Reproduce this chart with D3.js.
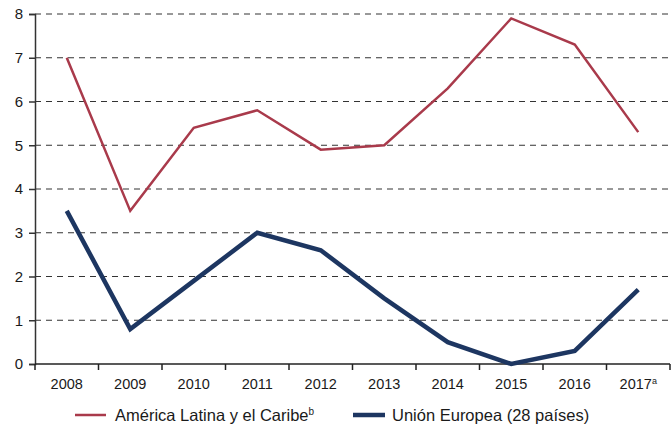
<!DOCTYPE html>
<html>
<head>
<meta charset="utf-8">
<script src="https://cdn.jsdelivr.net/npm/d3@7"></script>
<style>
  body { margin: 0; background: #fff; }
  text { font-family: "Liberation Sans", Arial, sans-serif; fill: #1a1a1a; }
</style>
</head>
<body>
<div id="container"></div>
<script>
const years = ["2008", "2009", "2010", "2011", "2012", "2013", "2014", "2015", "2016", "2017"];
const yearSup = ["", "", "", "", "", "", "", "", "", "a"];
const latam = [7.0, 3.5, 5.4, 5.8, 4.9, 5.0, 6.3, 7.9, 7.3, 5.3];
const ue = [3.5, 0.8, 1.9, 3.0, 2.6, 1.5, 0.5, 0.0, 0.3, 1.7];
const yTicks = [0, 1, 2, 3, 4, 5, 6, 7, 8];

const width = 672;
const height = 429;
const margin = { left: 35, right: 2, top: 14, bottom: 65 };

const svg = d3
  .select("#container")
  .append("svg")
  .attr("width", width)
  .attr("height", height);

const xScale = d3
  .scaleBand()
  .domain(years)
  .range([margin.left, width - margin.right]);

const yScale = d3
  .scaleLinear()
  .domain([0, 8])
  .range([height - margin.bottom, margin.top]);

// dashed grid
svg
  .append("g")
  .selectAll("line")
  .data(yTicks.filter((d) => d > 0))
  .enter()
  .append("line")
  .attr("x1", margin.left)
  .attr("x2", width - margin.right)
  .attr("y1", (d) => yScale(d))
  .attr("y2", (d) => yScale(d))
  .attr("stroke", "#333")
  .attr("stroke-width", 1)
  .attr("stroke-dasharray", "6,5");

// y axis
const yAxis = d3.axisLeft(yScale).tickValues(yTicks).tickSize(6).tickPadding(6);
const gy = svg.append("g").attr("transform", `translate(${margin.left},0)`).call(yAxis);
gy.select(".domain").attr("stroke", "#333").attr("stroke-width", 1.5);
gy.selectAll(".tick line").attr("stroke", "#333").attr("stroke-width", 1.5);
gy.selectAll(".tick text").style("font-size", "15px").attr("fill", "#1a1a1a");

// x axis, ticks at band edges
const gx = svg
  .append("g")
  .attr("transform", `translate(0,${yScale(0)})`);
gx.append("line")
  .attr("x1", margin.left)
  .attr("x2", width - margin.right)
  .attr("stroke", "#222")
  .attr("stroke-width", 1.5);
gx.selectAll(".edge")
  .data(years.concat(["end"]))
  .enter()
  .append("line")
  .attr("x1", (d, i) => (i < years.length ? xScale(d) : xScale(years[years.length - 1]) + xScale.bandwidth()))
  .attr("x2", (d, i) => (i < years.length ? xScale(d) : xScale(years[years.length - 1]) + xScale.bandwidth()))
  .attr("y1", 0)
  .attr("y2", 6)
  .attr("stroke", "#222")
  .attr("stroke-width", 1.5);
const xl = gx
  .selectAll(".lbl")
  .data(years)
  .enter()
  .append("text")
  .attr("x", (d) => xScale(d) + xScale.bandwidth() / 2)
  .attr("y", 25)
  .attr("text-anchor", "middle")
  .style("font-size", "14.5px");
xl.append("tspan").text((d) => d);
xl.append("tspan")
  .attr("dy", -5)
  .style("font-size", "9px")
  .text((d, i) => yearSup[i]);

const line = d3
  .line()
  .x((d, i) => xScale(years[i]) + xScale.bandwidth() / 2)
  .y((d) => yScale(d));

svg
  .append("path")
  .datum(latam)
  .attr("fill", "none")
  .attr("stroke", "#a93a4b")
  .attr("stroke-width", 2.5)
  .attr("d", line);

svg
  .append("path")
  .datum(ue)
  .attr("fill", "none")
  .attr("stroke", "#1d3661")
  .attr("stroke-width", 4.5)
  .attr("d", line);

// legend
const legend = svg.append("g").attr("transform", "translate(0,415)");
legend.append("line").attr("x1", 75).attr("x2", 106).attr("stroke", "#a93a4b").attr("stroke-width", 2.5);
const t1 = legend.append("text").attr("x", 115).attr("y", 6).style("font-size", "16.5px");
t1.append("tspan").text("América Latina y el Caribe");
t1.append("tspan").attr("dy", -6).style("font-size", "10px").text("b");
legend.append("line").attr("x1", 353).attr("x2", 385).attr("stroke", "#1d3661").attr("stroke-width", 4.5);
legend
  .append("text")
  .attr("x", 392)
  .attr("y", 6)
  .style("font-size", "16.5px")
  .text("Unión Europea (28 países)");
</script>
</body>
</html>
